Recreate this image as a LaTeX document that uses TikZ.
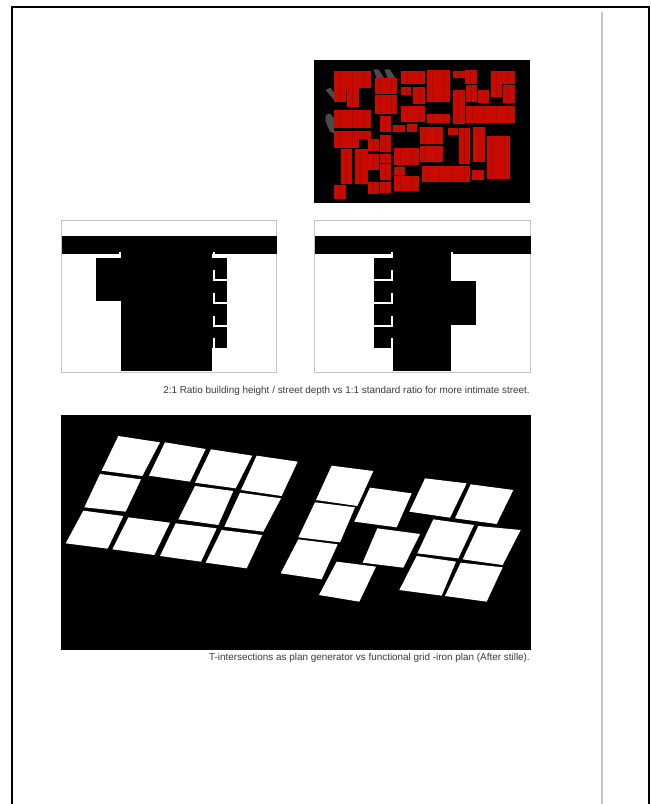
\documentclass[tikz,border=0pt]{standalone}
\usepackage{fontspec}
\setmainfont{Liberation Sans}
\definecolor{mapred}{HTML}{C80A00}
\definecolor{mapdark}{HTML}{A00E04}
\definecolor{hair}{HTML}{C4C4C4}
\definecolor{shadowgrey}{HTML}{4A4A4A}
\definecolor{captiongrey}{HTML}{3A3A3A}
\newcommand{\rb}[4]{%
  \fill[mapred] (#1-0.5,#2-0.5) rectangle (#3+0.5,#4+0.5);
  \pgfmathtruncatemacro{\nn}{max(1,round((#3-#1)/36))}
  \pgfmathsetmacro{\ww}{(#3-#1)/\nn}
  \foreach \k in {1,...,\nn}{
    \pgfmathsetmacro{\xx}{#1+(\k-0.5)*\ww}
    \draw[mapdark,line width=0.8pt] (\xx,#2+1) -- (\xx,#4-1);
  }
}
\tikzset{
  whitegap/.style={white,line width=1.8pt},
  panelframe/.style={draw=hair,fill=white,line width=1pt},
  lot/.style={fill=white,draw=none},
  caption/.style={font=\fontsize{9.9}{11}\selectfont,text=captiongrey,inner sep=0pt,anchor=east},
}
\begin{document}
\begin{tikzpicture}[x=1pt,y=-1pt]
\useasboundingbox (0,0) rectangle (652,804);
\fill[white] (0,0) rectangle (652,804);
% page frame
\draw[black,line width=2.4pt] (12,804) -- (12,7) -- (649,7) -- (649,804);
\fill[hair] (600.5,12) rectangle (602.5,804);
% map
\fill[black] (314,60) rectangle (530,203);
\begin{scope}[shift={(305,50)},x=0.33333pt,y=-0.33333pt]
\fill[shadowgrey] (205,58) -- (220,58) -- (238,85) -- (215,85) -- cycle;
\fill[shadowgrey] (238,58) -- (254,58) -- (272,85) -- (248,85) -- cycle;
\fill[shadowgrey] (62,120) -- (76,113) -- (87,128) -- (87,150) -- cycle;
\fill[shadowgrey] (62,195) -- (75,190) -- (87,205) -- (87,250) -- (75,245) -- (62,215) -- cycle;
\rb{87}{62}{197}{112}
\rb{87}{112}{122}{155}
\rb{125}{118}{160}{170}
\rb{122}{112}{160}{118}
\rb{210}{85}{275}{130}
\rb{210}{135}{275}{190}
\rb{288}{62}{360}{100}
\rb{365}{60}{435}{115}
\rb{365}{118}{435}{155}
\rb{445}{62}{480}{82}
\rb{480}{60}{515}{100}
\rb{558}{62}{628}{100}
\rb{558}{100}{590}{140}
\rb{595}{105}{628}{158}
\rb{288}{112}{318}{135}
\rb{325}{112}{360}{160}
\rb{445}{120}{478}{222}
\rb{483}{105}{515}{155}
\rb{520}{120}{552}{158}
\rb{288}{168}{360}{215}
\rb{365}{193}{435}{218}
\rb{483}{167}{628}{218}
\rb{87}{180}{197}{232}
\rb{225}{197}{258}{245}
\rb{265}{225}{298}{245}
\rb{305}{222}{335}{245}
\rb{345}{232}{412}{282}
\rb{345}{288}{412}{335}
\rb{428}{235}{458}{255}
\rb{462}{235}{495}{342}
\rb{505}{230}{538}{335}
\rb{545}{258}{615}{385}
\rb{87}{243}{160}{293}
\rb{160}{243}{197}{265}
\rb{108}{297}{140}{402}
\rb{150}{297}{187}{402}
\rb{190}{268}{220}{302}
\rb{190}{312}{220}{360}
\rb{188}{395}{220}{432}
\rb{225}{255}{258}{305}
\rb{225}{312}{258}{338}
\rb{225}{342}{258}{388}
\rb{225}{395}{258}{428}
\rb{268}{293}{340}{345}
\rb{268}{350}{300}{375}
\rb{268}{378}{340}{422}
\rb{350}{347}{495}{395}
\rb{500}{360}{535}{390}
\rb{87}{405}{122}{447}
\end{scope}
% left section
\draw[panelframe] (61.7,220.7) rectangle (276.7,372.7);
\begin{scope}[shift={(50,210)},x=0.33333pt,y=-0.33333pt]
\fill[black] (35,78) rectangle (680,132);
\fill[black] (213,78) rectangle (487,484);
\fill[black] (137,145) rectangle (213,272);
\fill[black] (487,145) rectangle (530,413);
\draw[whitegap] (137,138) -- (209,138) -- (209,125);
\draw[whitegap] (491,125) -- (491,138) -- (530,138);
\draw[whitegap] (491,180) -- (491,210) -- (530,210);
\draw[whitegap] (491,250) -- (491,280) -- (530,280);
\draw[whitegap] (491,318) -- (491,348) -- (530,348);
\draw[whitegap] (491,385) -- (491,413);
\end{scope}
% right section
\draw[panelframe] (314,220.7) rectangle (530,372.7);
\begin{scope}[shift={(300,210)},x=0.33333pt,y=-0.33333pt]
\fill[black] (45,78) rectangle (692,132);
\fill[black] (280,78) rectangle (452,484);
\fill[black] (223,145) rectangle (280,413);
\fill[black] (452,212) rectangle (527,345);
\draw[whitegap] (223,138) -- (276,138) -- (276,125);
\draw[whitegap] (276,180) -- (276,210) -- (223,210);
\draw[whitegap] (276,250) -- (276,280) -- (223,280);
\draw[whitegap] (276,318) -- (276,348) -- (223,348);
\draw[whitegap] (276,385) -- (276,413);
\draw[whitegap] (456,125) -- (456,136) -- (468,136);
\end{scope}
\node[caption] (captionone) at (530,391) {2:1 Ratio building height / street depth vs 1:1 standard ratio for more intimate street.};
% lots
\fill[black] (61,415) rectangle (531,650);
\begin{scope}[shift={(55,410)},x=0.33333pt,y=-0.33333pt]
\fill[lot] (190,78) -- (315,97) -- (262,198) -- (140,182) -- cycle;
\fill[lot] (330,97) -- (452,117) -- (405,215) -- (282,197) -- cycle;
\fill[lot] (468,118) -- (592,137) -- (542,235) -- (420,218) -- cycle;
\fill[lot] (605,137) -- (728,155) -- (680,258) -- (558,240) -- cycle;
\fill[lot] (135,192) -- (258,208) -- (212,305) -- (88,292) -- cycle;
\fill[lot] (420,228) -- (535,243) -- (490,345) -- (370,328) -- cycle;
\fill[lot] (555,248) -- (678,265) -- (625,365) -- (508,350) -- cycle;
\fill[lot] (85,302) -- (205,318) -- (158,416) -- (32,400) -- cycle;
\fill[lot] (220,322) -- (345,338) -- (298,435) -- (172,418) -- cycle;
\fill[lot] (362,340) -- (485,355) -- (438,455) -- (315,438) -- cycle;
\fill[lot] (500,360) -- (622,375) -- (575,475) -- (452,458) -- cycle;
\end{scope}
\begin{scope}[shift={(270,450)},x=0.33333pt,y=-0.33333pt]
\fill[lot] (185,47) -- (310,63) -- (262,168) -- (138,150) -- cycle;
\fill[lot] (135,157) -- (255,172) -- (210,277) -- (85,262) -- cycle;
\fill[lot] (85,268) -- (203,283) -- (155,388) -- (32,370) -- cycle;
\fill[lot] (300,113) -- (425,130) -- (380,232) -- (253,215) -- cycle;
\fill[lot] (322,235) -- (450,252) -- (400,353) -- (278,338) -- cycle;
\fill[lot] (200,335) -- (318,350) -- (268,455) -- (147,435) -- cycle;
\fill[lot] (465,85) -- (590,100) -- (540,203) -- (418,185) -- cycle;
\fill[lot] (602,103) -- (730,120) -- (680,222) -- (555,205) -- cycle;
\fill[lot] (490,208) -- (612,225) -- (565,325) -- (442,310) -- cycle;
\fill[lot] (625,228) -- (752,240) -- (698,345) -- (578,328) -- cycle;
\fill[lot] (440,318) -- (558,335) -- (515,437) -- (388,420) -- cycle;
\fill[lot] (572,338) -- (698,352) -- (650,455) -- (525,438) -- cycle;
\end{scope}
\node[caption] (captiontwo) at (530,658) {T-intersections as plan generator vs functional grid -iron plan (After stille).};
\end{tikzpicture}
\end{document}
